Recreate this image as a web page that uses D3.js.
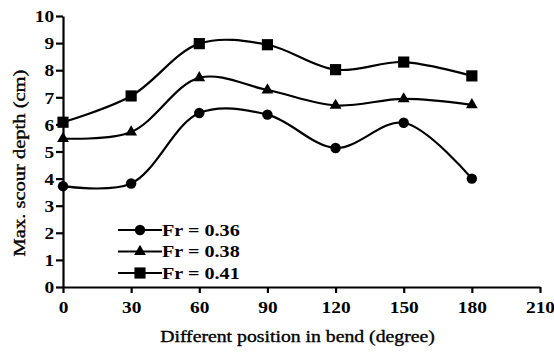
<!DOCTYPE html>
<html>
<head>
<meta charset="utf-8">
<script src="https://cdn.jsdelivr.net/npm/d3@7"></script>
<style>
  body { margin: 0; background: #fff; }
  text { font-family: "Liberation Serif", "Times New Roman", serif; font-weight: bold; fill: #000; }
</style>
</head>
<body>
<div id="vis"></div>
<script>
// ==== DATA ====
const positions = [0, 30, 60, 90, 120, 150, 180];
const fr036 = [3.72, 3.82, 6.42, 6.36, 5.13, 6.06, 4.0];
const fr038 = [5.48, 5.72, 7.72, 7.27, 6.7, 6.94, 6.72];
const fr041 = [6.08, 7.05, 8.98, 8.94, 8.02, 8.3, 7.79];
const seriesNames = ["Fr = 0.36", "Fr = 0.38", "Fr = 0.41"];
const xTicks = [0, 30, 60, 90, 120, 150, 180, 210];
const yTicks = [0, 1, 2, 3, 4, 5, 6, 7, 8, 9, 10];

const width = 554, height = 352;
const stretch = 1.14; // the text in the picture is a bit wide
const svg = d3.select("#vis").append("svg")
  .attr("width", width).attr("height", height);

const x = d3.scaleLinear().domain([0, 210]).range([63, 540]);
const y = d3.scaleLinear().domain([0, 10]).range([287, 16]);

// ==== AXES ====
const xAxis = svg.append("g").attr("transform", `translate(0,${y(0)})`)
  .call(d3.axisBottom(x).tickValues(xTicks).tickSize(6).tickPadding(8).tickSizeOuter(0));
const yAxis = svg.append("g").attr("transform", `translate(${x(0)},0)`)
  .call(d3.axisLeft(y).tickValues(yTicks).tickSize(7).tickPadding(0.8).tickSizeOuter(0));

[xAxis, yAxis].forEach(g => {
  g.select(".domain").attr("stroke", "#000").attr("stroke-width", 2.2);
  g.selectAll(".tick line").attr("stroke", "#000").attr("stroke-width", 2.2);
  g.selectAll(".tick text")
    .style("font-family", "'Liberation Serif', serif")
    .style("font-weight", "bold")
    .style("font-size", "17px")
    .attr("fill", "#000")
    .attr("transform", `scale(${stretch},1)`);
});
yAxis.selectAll(".tick text").attr("dy", "0.34em");

// axis titles: regular weight, stretched to the width seen in the picture
function fitTitle(txt, tx, ty, rot, len) {
  const t = svg.append("text")
    .attr("text-anchor", "middle")
    .style("font-size", "17px")
    .style("font-weight", "normal")
    .style("stroke", "#000").style("stroke-width", 0.35)
    .text(txt);
  const s = len / t.node().getComputedTextLength();
  t.attr("transform", `translate(${tx},${ty}) rotate(${rot}) scale(${s},1)`);
}
fitTitle("Different position in bend (degree)", 297.5, 342, 0, 275);
fitTitle("Max. scour depth (cm)", 25, 163, -90, 187);

// ==== SERIES ====
const line = d3.line()
  .x(d => x(d[0])).y(d => y(d[1]))
  .curve(d3.curveCatmullRom.alpha(0.5));

const symbols = [d3.symbolCircle, d3.symbolTriangle, d3.symbolSquare];
const symSizes = [85, 60, 125];
const allSeries = [fr036, fr038, fr041];

allSeries.forEach((vals, i) => {
  const pts = positions.map((p, j) => [p, vals[j]]);
  svg.append("path").datum(pts)
    .attr("d", line)
    .attr("fill", "none")
    .attr("stroke", "#000")
    .attr("stroke-width", 2.2);
  svg.selectAll(null).data(pts).enter().append("path")
    .attr("transform", d => `translate(${x(d[0])},${y(d[1])})`)
    .attr("d", d3.symbol().type(symbols[i]).size(symSizes[i]))
    .attr("fill", "#000");
});

// ==== LEGEND ====
const legend = svg.append("g");
seriesNames.forEach((name, i) => {
  const ly = 230 + i * 21.5;
  legend.append("line")
    .attr("x1", 118).attr("x2", 162)
    .attr("y1", ly).attr("y2", ly)
    .attr("stroke", "#000").attr("stroke-width", 2.2);
  legend.append("path")
    .attr("transform", `translate(140,${ly})`)
    .attr("d", d3.symbol().type(symbols[i]).size(symSizes[i]))
    .attr("fill", "#000");
  legend.append("text")
    .attr("transform", `translate(162,${ly + 5.8}) scale(1.2,1)`)
    .style("font-size", "16.8px")
    .text(name);
});
</script>
</body>
</html>
